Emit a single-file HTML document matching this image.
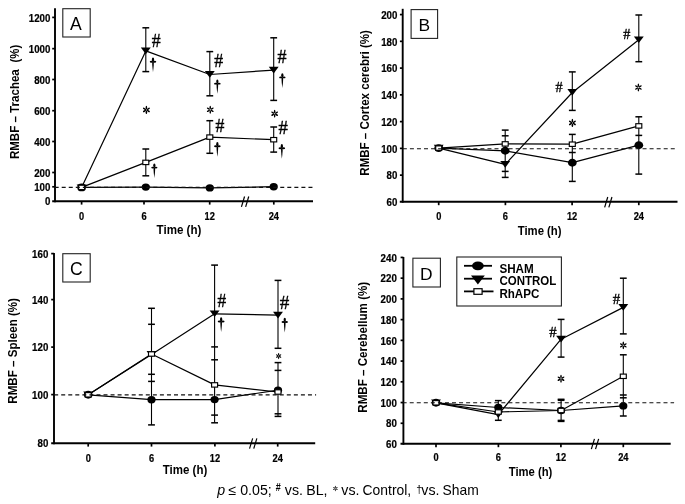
<!DOCTYPE html><html><head><meta charset="utf-8"><style>html,body{margin:0;padding:0;background:#fff;}svg{display:block;will-change:transform;}text{font-family:"Liberation Sans", sans-serif;fill:#000;}</style></head><body>
<svg width="685" height="504" viewBox="0 0 685 504">
<rect width="685" height="504" fill="#fff"/>
<line x1="55" y1="8.3" x2="55" y2="202.14999999999998" stroke="#000" stroke-width="1.9" />
<line x1="52.2" y1="201.2" x2="313" y2="201.2" stroke="#000" stroke-width="1.9" />
<text x="50.4" y="205.40" text-anchor="end" font-size="10.9" font-weight="bold" stroke="#000" stroke-width="0.22" textLength="5.40" lengthAdjust="spacingAndGlyphs">0</text>
<line x1="52.2" y1="186.8" x2="55" y2="186.8" stroke="#000" stroke-width="1.7" />
<text x="50.4" y="191.00" text-anchor="end" font-size="10.9" font-weight="bold" stroke="#000" stroke-width="0.22" textLength="16.20" lengthAdjust="spacingAndGlyphs">100</text>
<line x1="52.2" y1="172.5" x2="55" y2="172.5" stroke="#000" stroke-width="1.7" />
<text x="50.4" y="176.70" text-anchor="end" font-size="10.9" font-weight="bold" stroke="#000" stroke-width="0.22" textLength="16.20" lengthAdjust="spacingAndGlyphs">200</text>
<line x1="52.2" y1="141.5" x2="55" y2="141.5" stroke="#000" stroke-width="1.7" />
<text x="50.4" y="145.70" text-anchor="end" font-size="10.9" font-weight="bold" stroke="#000" stroke-width="0.22" textLength="16.20" lengthAdjust="spacingAndGlyphs">400</text>
<line x1="52.2" y1="110.7" x2="55" y2="110.7" stroke="#000" stroke-width="1.7" />
<text x="50.4" y="114.90" text-anchor="end" font-size="10.9" font-weight="bold" stroke="#000" stroke-width="0.22" textLength="16.20" lengthAdjust="spacingAndGlyphs">600</text>
<line x1="52.2" y1="79.5" x2="55" y2="79.5" stroke="#000" stroke-width="1.7" />
<text x="50.4" y="83.70" text-anchor="end" font-size="10.9" font-weight="bold" stroke="#000" stroke-width="0.22" textLength="16.20" lengthAdjust="spacingAndGlyphs">800</text>
<line x1="52.2" y1="48.65" x2="55" y2="48.65" stroke="#000" stroke-width="1.7" />
<text x="50.4" y="52.85" text-anchor="end" font-size="10.9" font-weight="bold" stroke="#000" stroke-width="0.22" textLength="21.60" lengthAdjust="spacingAndGlyphs">1000</text>
<line x1="52.2" y1="17.4" x2="55" y2="17.4" stroke="#000" stroke-width="1.7" />
<text x="50.4" y="21.60" text-anchor="end" font-size="10.9" font-weight="bold" stroke="#000" stroke-width="0.22" textLength="21.60" lengthAdjust="spacingAndGlyphs">1200</text>
<line x1="81.6" y1="201.2" x2="81.6" y2="204.6" stroke="#000" stroke-width="1.7" />
<text x="81.6" y="219.6" text-anchor="middle" font-size="10.7" font-weight="bold" stroke="#000" stroke-width="0.22" textLength="5.15" lengthAdjust="spacingAndGlyphs">0</text>
<line x1="144" y1="201.2" x2="144" y2="204.6" stroke="#000" stroke-width="1.7" />
<text x="144" y="219.6" text-anchor="middle" font-size="10.7" font-weight="bold" stroke="#000" stroke-width="0.22" textLength="5.15" lengthAdjust="spacingAndGlyphs">6</text>
<line x1="209.7" y1="201.2" x2="209.7" y2="204.6" stroke="#000" stroke-width="1.7" />
<text x="209.7" y="219.6" text-anchor="middle" font-size="10.7" font-weight="bold" stroke="#000" stroke-width="0.22" textLength="10.30" lengthAdjust="spacingAndGlyphs">12</text>
<line x1="273.8" y1="201.2" x2="273.8" y2="204.6" stroke="#000" stroke-width="1.7" />
<text x="273.8" y="219.6" text-anchor="middle" font-size="10.7" font-weight="bold" stroke="#000" stroke-width="0.22" textLength="10.30" lengthAdjust="spacingAndGlyphs">24</text>
<line x1="244.55" y1="196.50" x2="241.45" y2="206.80" stroke="#000" stroke-width="1.2"/>
<line x1="248.75" y1="196.50" x2="245.65" y2="206.80" stroke="#000" stroke-width="1.2"/>
<text x="156.6" y="234.10" font-size="12.3" font-weight="bold" textLength="44.80" lengthAdjust="spacingAndGlyphs">Time (h)</text>
<text transform="translate(18.6,159.1) rotate(-90)" font-size="12.3" font-weight="bold" textLength="89.90" lengthAdjust="spacingAndGlyphs">RMBF – Trachea</text>
<text transform="translate(18.6,62.4) rotate(-90)" font-size="12.3" font-weight="bold" textLength="17.60" lengthAdjust="spacingAndGlyphs">(%)</text>
<rect x="62.8" y="8.7" width="27.400000000000006" height="28.3" fill="none" stroke="#222" stroke-width="1.1"/>
<text x="75.75" y="29.5" text-anchor="middle" font-size="17.6">A</text>
<polyline points="81.60,187.40 145.80,187.10 209.80,187.90 273.70,186.70" fill="none" stroke="#000" stroke-width="1.2" stroke-linejoin="round"/>
<polyline points="81.60,187.40 145.80,50.90 209.80,74.50 273.70,70.10" fill="none" stroke="#000" stroke-width="1.2" stroke-linejoin="round"/>
<polyline points="81.60,187.40 145.80,162.40 209.80,137.10 273.70,139.70" fill="none" stroke="#000" stroke-width="1.2" stroke-linejoin="round"/>
<line x1="145.8" y1="27.8" x2="145.8" y2="71.6" stroke="#000" stroke-width="1.1" />
<line x1="142.4" y1="27.8" x2="149.20000000000002" y2="27.8" stroke="#000" stroke-width="1.5" />
<line x1="142.4" y1="71.6" x2="149.20000000000002" y2="71.6" stroke="#000" stroke-width="1.5" />
<line x1="209.8" y1="51.6" x2="209.8" y2="95.8" stroke="#000" stroke-width="1.1" />
<line x1="206.4" y1="51.6" x2="213.20000000000002" y2="51.6" stroke="#000" stroke-width="1.5" />
<line x1="206.4" y1="95.8" x2="213.20000000000002" y2="95.8" stroke="#000" stroke-width="1.5" />
<line x1="273.7" y1="37.8" x2="273.7" y2="100.4" stroke="#000" stroke-width="1.1" />
<line x1="270.3" y1="37.8" x2="277.09999999999997" y2="37.8" stroke="#000" stroke-width="1.5" />
<line x1="270.3" y1="100.4" x2="277.09999999999997" y2="100.4" stroke="#000" stroke-width="1.5" />
<line x1="145.8" y1="149.0" x2="145.8" y2="175.8" stroke="#000" stroke-width="1.1" />
<line x1="142.4" y1="149.0" x2="149.20000000000002" y2="149.0" stroke="#000" stroke-width="1.5" />
<line x1="142.4" y1="175.8" x2="149.20000000000002" y2="175.8" stroke="#000" stroke-width="1.5" />
<line x1="209.8" y1="120.7" x2="209.8" y2="153.3" stroke="#000" stroke-width="1.1" />
<line x1="206.4" y1="120.7" x2="213.20000000000002" y2="120.7" stroke="#000" stroke-width="1.5" />
<line x1="206.4" y1="153.3" x2="213.20000000000002" y2="153.3" stroke="#000" stroke-width="1.5" />
<line x1="273.7" y1="127.0" x2="273.7" y2="152.1" stroke="#000" stroke-width="1.1" />
<line x1="270.3" y1="127.0" x2="277.09999999999997" y2="127.0" stroke="#000" stroke-width="1.5" />
<line x1="270.3" y1="152.1" x2="277.09999999999997" y2="152.1" stroke="#000" stroke-width="1.5" />
<path d="M76.65,184.40 L86.55,184.40 L81.60,191.10 Z" fill="#000"/>
<ellipse cx="81.6" cy="187.4" rx="4.3" ry="3.87" fill="#000"/>
<ellipse cx="145.8" cy="187.1" rx="4.1" ry="3.69" fill="#000"/>
<ellipse cx="209.8" cy="187.9" rx="4.1" ry="3.69" fill="#000"/>
<ellipse cx="273.7" cy="186.7" rx="4.1" ry="3.69" fill="#000"/>
<path d="M140.85,47.50 L150.75,47.50 L145.80,54.20 Z" fill="#000"/>
<path d="M204.85,71.10 L214.75,71.10 L209.80,77.80 Z" fill="#000"/>
<path d="M268.75,66.70 L278.65,66.70 L273.70,73.40 Z" fill="#000"/>
<rect x="78.60" y="185.20" width="6.0" height="4.4" fill="#fff" stroke="#000" stroke-width="1.15"/>
<rect x="142.80" y="160.20" width="6.0" height="4.4" fill="#fff" stroke="#000" stroke-width="1.15"/>
<rect x="206.80" y="134.90" width="6.0" height="4.4" fill="#fff" stroke="#000" stroke-width="1.15"/>
<rect x="270.70" y="137.50" width="6.0" height="4.4" fill="#fff" stroke="#000" stroke-width="1.15"/>
<line x1="54.65" y1="187.35" x2="313.1" y2="187.35" stroke="#111" stroke-width="1.1" stroke-dasharray="4 3.05"/>
<text transform="translate(151.79,46.64) scale(0.940,1)" style="font-family:'Liberation Serif',serif" font-size="18.91" stroke="#000" stroke-width="0.35">#</text>
<g><ellipse cx="153.00" cy="59.73" rx="1.15" ry="2.13" fill="#000"/><ellipse cx="151.38" cy="61.82" rx="1.62" ry="0.95" fill="#000"/><ellipse cx="154.62" cy="61.82" rx="1.62" ry="0.95" fill="#000"/><path d="M152.20,61.82 Q152.04,64.96 153.00,72.30 Q153.96,64.96 153.80,61.82 Z" fill="#000"/></g>
<g><ellipse cx="146.40" cy="107.65" rx="1.84" ry="0.78" transform="rotate(-90.0 146.40 107.65)" fill="#000"/><ellipse cx="148.29" cy="108.81" rx="1.79" ry="0.78" transform="rotate(-30.0 148.29 108.81)" fill="#000"/><ellipse cx="148.29" cy="110.99" rx="1.79" ry="0.78" transform="rotate(30.0 148.29 110.99)" fill="#000"/><ellipse cx="146.40" cy="112.16" rx="1.84" ry="0.78" transform="rotate(90.0 146.40 112.16)" fill="#000"/><ellipse cx="144.51" cy="110.99" rx="1.79" ry="0.78" transform="rotate(150.0 144.51 110.99)" fill="#000"/><ellipse cx="144.51" cy="108.81" rx="1.79" ry="0.78" transform="rotate(-150.0 144.51 108.81)" fill="#000"/></g>
<g><ellipse cx="154.35" cy="165.53" rx="1.15" ry="2.13" fill="#000"/><ellipse cx="152.80" cy="167.62" rx="1.55" ry="0.95" fill="#000"/><ellipse cx="155.90" cy="167.62" rx="1.55" ry="0.95" fill="#000"/><path d="M153.55,167.62 Q153.39,170.76 154.35,178.10 Q155.31,170.76 155.15,167.62 Z" fill="#000"/></g>
<text transform="translate(214.29,67.13) scale(0.989,1)" style="font-family:'Liberation Serif',serif" font-size="17.97" stroke="#000" stroke-width="0.35">#</text>
<g><ellipse cx="217.35" cy="81.65" rx="1.10" ry="2.05" fill="#000"/><ellipse cx="215.70" cy="83.66" rx="1.65" ry="0.91" fill="#000"/><ellipse cx="219.00" cy="83.66" rx="1.65" ry="0.91" fill="#000"/><path d="M216.58,83.66 Q216.43,86.67 217.35,93.70 Q218.27,86.67 218.12,83.66 Z" fill="#000"/></g>
<g><ellipse cx="210.25" cy="107.55" rx="1.80" ry="0.76" transform="rotate(-90.0 210.25 107.55)" fill="#000"/><ellipse cx="212.10" cy="108.68" rx="1.75" ry="0.76" transform="rotate(-30.0 212.10 108.68)" fill="#000"/><ellipse cx="212.10" cy="110.82" rx="1.75" ry="0.76" transform="rotate(30.0 212.10 110.82)" fill="#000"/><ellipse cx="210.25" cy="111.95" rx="1.80" ry="0.76" transform="rotate(90.0 210.25 111.95)" fill="#000"/><ellipse cx="208.40" cy="110.82" rx="1.75" ry="0.76" transform="rotate(150.0 208.40 110.82)" fill="#000"/><ellipse cx="208.40" cy="108.68" rx="1.75" ry="0.76" transform="rotate(-150.0 208.40 108.68)" fill="#000"/></g>
<text transform="translate(215.49,132.33) scale(0.989,1)" style="font-family:'Liberation Serif',serif" font-size="17.97" stroke="#000" stroke-width="0.35">#</text>
<g><ellipse cx="217.35" cy="144.13" rx="1.15" ry="2.13" fill="#000"/><ellipse cx="215.70" cy="146.22" rx="1.65" ry="0.95" fill="#000"/><ellipse cx="219.00" cy="146.22" rx="1.65" ry="0.95" fill="#000"/><path d="M216.55,146.22 Q216.39,149.36 217.35,156.70 Q218.31,149.36 218.15,146.22 Z" fill="#000"/></g>
<text transform="translate(277.59,62.93) scale(1.002,1)" style="font-family:'Liberation Serif',serif" font-size="17.97" stroke="#000" stroke-width="0.35">#</text>
<g><ellipse cx="282.35" cy="75.33" rx="1.15" ry="2.13" fill="#000"/><ellipse cx="280.75" cy="77.42" rx="1.60" ry="0.95" fill="#000"/><ellipse cx="283.95" cy="77.42" rx="1.60" ry="0.95" fill="#000"/><path d="M281.55,77.42 Q281.39,80.56 282.35,87.90 Q283.31,80.56 283.15,77.42 Z" fill="#000"/></g>
<g><ellipse cx="274.65" cy="111.45" rx="1.80" ry="0.76" transform="rotate(-90.0 274.65 111.45)" fill="#000"/><ellipse cx="276.50" cy="112.58" rx="1.75" ry="0.76" transform="rotate(-30.0 276.50 112.58)" fill="#000"/><ellipse cx="276.50" cy="114.72" rx="1.75" ry="0.76" transform="rotate(30.0 276.50 114.72)" fill="#000"/><ellipse cx="274.65" cy="115.85" rx="1.80" ry="0.76" transform="rotate(90.0 274.65 115.85)" fill="#000"/><ellipse cx="272.80" cy="114.72" rx="1.75" ry="0.76" transform="rotate(150.0 272.80 114.72)" fill="#000"/><ellipse cx="272.80" cy="112.58" rx="1.75" ry="0.76" transform="rotate(-150.0 272.80 112.58)" fill="#000"/></g>
<text transform="translate(278.58,133.63) scale(1.021,1)" style="font-family:'Liberation Serif',serif" font-size="18.28" stroke="#000" stroke-width="0.35">#</text>
<g><ellipse cx="281.85" cy="146.13" rx="1.15" ry="2.13" fill="#000"/><ellipse cx="280.20" cy="148.22" rx="1.65" ry="0.95" fill="#000"/><ellipse cx="283.50" cy="148.22" rx="1.65" ry="0.95" fill="#000"/><path d="M281.05,148.22 Q280.89,151.36 281.85,158.70 Q282.81,151.36 282.65,148.22 Z" fill="#000"/></g>
<line x1="402.7" y1="8.8" x2="402.7" y2="202.75" stroke="#000" stroke-width="1.9" />
<line x1="399.8" y1="201.8" x2="677.5" y2="201.8" stroke="#000" stroke-width="1.9" />
<text x="397.4" y="206.10" text-anchor="end" font-size="10.9" font-weight="bold" stroke="#000" stroke-width="0.22" textLength="10.80" lengthAdjust="spacingAndGlyphs">60</text>
<line x1="399.9" y1="175.14000000000001" x2="402.7" y2="175.14000000000001" stroke="#000" stroke-width="1.7" />
<text x="397.4" y="179.34" text-anchor="end" font-size="10.9" font-weight="bold" stroke="#000" stroke-width="0.22" textLength="10.80" lengthAdjust="spacingAndGlyphs">80</text>
<line x1="399.9" y1="148.38" x2="402.7" y2="148.38" stroke="#000" stroke-width="1.7" />
<text x="397.4" y="152.58" text-anchor="end" font-size="10.9" font-weight="bold" stroke="#000" stroke-width="0.22" textLength="16.20" lengthAdjust="spacingAndGlyphs">100</text>
<line x1="399.9" y1="121.62" x2="402.7" y2="121.62" stroke="#000" stroke-width="1.7" />
<text x="397.4" y="125.82" text-anchor="end" font-size="10.9" font-weight="bold" stroke="#000" stroke-width="0.22" textLength="16.20" lengthAdjust="spacingAndGlyphs">120</text>
<line x1="399.9" y1="94.86" x2="402.7" y2="94.86" stroke="#000" stroke-width="1.7" />
<text x="397.4" y="99.06" text-anchor="end" font-size="10.9" font-weight="bold" stroke="#000" stroke-width="0.22" textLength="16.20" lengthAdjust="spacingAndGlyphs">140</text>
<line x1="399.9" y1="68.1" x2="402.7" y2="68.1" stroke="#000" stroke-width="1.7" />
<text x="397.4" y="72.30" text-anchor="end" font-size="10.9" font-weight="bold" stroke="#000" stroke-width="0.22" textLength="16.20" lengthAdjust="spacingAndGlyphs">160</text>
<line x1="399.9" y1="41.34" x2="402.7" y2="41.34" stroke="#000" stroke-width="1.7" />
<text x="397.4" y="45.54" text-anchor="end" font-size="10.9" font-weight="bold" stroke="#000" stroke-width="0.22" textLength="16.20" lengthAdjust="spacingAndGlyphs">180</text>
<line x1="399.9" y1="14.579999999999984" x2="402.7" y2="14.579999999999984" stroke="#000" stroke-width="1.7" />
<text x="397.4" y="18.78" text-anchor="end" font-size="10.9" font-weight="bold" stroke="#000" stroke-width="0.22" textLength="16.20" lengthAdjust="spacingAndGlyphs">200</text>
<line x1="438.7" y1="201.8" x2="438.7" y2="205.20000000000002" stroke="#000" stroke-width="1.7" />
<text x="438.7" y="219.6" text-anchor="middle" font-size="10.7" font-weight="bold" stroke="#000" stroke-width="0.22" textLength="5.15" lengthAdjust="spacingAndGlyphs">0</text>
<line x1="505.4" y1="201.8" x2="505.4" y2="205.20000000000002" stroke="#000" stroke-width="1.7" />
<text x="505.4" y="219.6" text-anchor="middle" font-size="10.7" font-weight="bold" stroke="#000" stroke-width="0.22" textLength="5.15" lengthAdjust="spacingAndGlyphs">6</text>
<line x1="572.1" y1="201.8" x2="572.1" y2="205.20000000000002" stroke="#000" stroke-width="1.7" />
<text x="572.1" y="219.6" text-anchor="middle" font-size="10.7" font-weight="bold" stroke="#000" stroke-width="0.22" textLength="10.30" lengthAdjust="spacingAndGlyphs">12</text>
<line x1="638.8" y1="201.8" x2="638.8" y2="205.20000000000002" stroke="#000" stroke-width="1.7" />
<text x="638.8" y="219.6" text-anchor="middle" font-size="10.7" font-weight="bold" stroke="#000" stroke-width="0.22" textLength="10.30" lengthAdjust="spacingAndGlyphs">24</text>
<line x1="607.75" y1="197.00" x2="604.65" y2="207.30" stroke="#000" stroke-width="1.2"/>
<line x1="611.95" y1="197.00" x2="608.85" y2="207.30" stroke="#000" stroke-width="1.2"/>
<text x="517.7" y="234.60" font-size="12.3" font-weight="bold" textLength="43.90" lengthAdjust="spacingAndGlyphs">Time (h)</text>
<text transform="translate(369.3,175.7) rotate(-90)" font-size="12.3" font-weight="bold" textLength="145.60" lengthAdjust="spacingAndGlyphs">RMBF – Cortex cerebri (%)</text>
<rect x="411.1" y="9.6" width="26.5" height="28.799999999999997" fill="none" stroke="#222" stroke-width="1.1"/>
<text x="424.4" y="31.3" text-anchor="middle" font-size="17.4">B</text>
<polyline points="438.70,148.10 505.20,150.80 572.30,162.70 638.80,145.20" fill="none" stroke="#000" stroke-width="1.2" stroke-linejoin="round"/>
<polyline points="438.70,148.10 505.20,164.40 572.30,92.50 638.80,39.80" fill="none" stroke="#000" stroke-width="1.2" stroke-linejoin="round"/>
<polyline points="438.70,148.10 505.20,143.90 572.30,144.20 638.80,125.90" fill="none" stroke="#000" stroke-width="1.2" stroke-linejoin="round"/>
<line x1="505.2" y1="130.1" x2="505.2" y2="177.4" stroke="#000" stroke-width="1.1" />
<line x1="501.8" y1="130.1" x2="508.59999999999997" y2="130.1" stroke="#000" stroke-width="1.5" />
<line x1="501.8" y1="135.8" x2="508.59999999999997" y2="135.8" stroke="#000" stroke-width="1.5" />
<line x1="501.8" y1="171.4" x2="508.59999999999997" y2="171.4" stroke="#000" stroke-width="1.5" />
<line x1="501.8" y1="177.4" x2="508.59999999999997" y2="177.4" stroke="#000" stroke-width="1.5" />
<line x1="572.3" y1="71.9" x2="572.3" y2="110.4" stroke="#000" stroke-width="1.1" />
<line x1="568.9" y1="71.9" x2="575.6999999999999" y2="71.9" stroke="#000" stroke-width="1.5" />
<line x1="568.9" y1="110.4" x2="575.6999999999999" y2="110.4" stroke="#000" stroke-width="1.5" />
<line x1="572.3" y1="134.4" x2="572.3" y2="181.4" stroke="#000" stroke-width="1.1" />
<line x1="568.9" y1="134.4" x2="575.6999999999999" y2="134.4" stroke="#000" stroke-width="1.5" />
<line x1="568.9" y1="152.5" x2="575.6999999999999" y2="152.5" stroke="#000" stroke-width="1.5" />
<line x1="568.9" y1="181.4" x2="575.6999999999999" y2="181.4" stroke="#000" stroke-width="1.5" />
<line x1="638.8" y1="15.0" x2="638.8" y2="61.7" stroke="#000" stroke-width="1.1" />
<line x1="635.4" y1="15.0" x2="642.1999999999999" y2="15.0" stroke="#000" stroke-width="1.5" />
<line x1="635.4" y1="61.7" x2="642.1999999999999" y2="61.7" stroke="#000" stroke-width="1.5" />
<line x1="638.8" y1="116.8" x2="638.8" y2="174.1" stroke="#000" stroke-width="1.1" />
<line x1="635.4" y1="116.8" x2="642.1999999999999" y2="116.8" stroke="#000" stroke-width="1.5" />
<line x1="635.4" y1="135.4" x2="642.1999999999999" y2="135.4" stroke="#000" stroke-width="1.5" />
<line x1="635.4" y1="174.1" x2="642.1999999999999" y2="174.1" stroke="#000" stroke-width="1.5" />
<path d="M433.75,144.70 L443.65,144.70 L438.70,151.40 Z" fill="#000"/>
<ellipse cx="438.7" cy="148.1" rx="4.4" ry="3.96" fill="#000"/>
<ellipse cx="505.2" cy="150.8" rx="4.4" ry="3.96" fill="#000"/>
<ellipse cx="572.3" cy="162.7" rx="4.4" ry="3.96" fill="#000"/>
<ellipse cx="638.8" cy="145.2" rx="4.4" ry="3.96" fill="#000"/>
<path d="M500.25,161.00 L510.15,161.00 L505.20,167.70 Z" fill="#000"/>
<path d="M567.35,89.10 L577.25,89.10 L572.30,95.80 Z" fill="#000"/>
<path d="M633.85,36.40 L643.75,36.40 L638.80,43.10 Z" fill="#000"/>
<rect x="435.70" y="145.90" width="6.0" height="4.4" fill="#fff" stroke="#000" stroke-width="1.15"/>
<rect x="502.20" y="141.70" width="6.0" height="4.4" fill="#fff" stroke="#000" stroke-width="1.15"/>
<rect x="569.30" y="142.00" width="6.0" height="4.4" fill="#fff" stroke="#000" stroke-width="1.15"/>
<rect x="635.80" y="123.70" width="6.0" height="4.4" fill="#fff" stroke="#000" stroke-width="1.15"/>
<line x1="402.85" y1="148.8" x2="675.1" y2="148.8" stroke="#111" stroke-width="1.1" stroke-dasharray="4 3.05"/>
<text transform="translate(555.47,91.69) scale(1.000,1)" style="font-family:'Liberation Serif',serif" font-size="14.22" stroke="#000" stroke-width="0.35">#</text>
<text transform="translate(623.17,39.19) scale(1.046,1)" style="font-family:'Liberation Serif',serif" font-size="13.59" stroke="#000" stroke-width="0.35">#</text>
<g><ellipse cx="638.40" cy="85.36" rx="1.75" ry="0.74" transform="rotate(-90.0 638.40 85.36)" fill="#000"/><ellipse cx="640.20" cy="86.46" rx="1.70" ry="0.74" transform="rotate(-30.0 640.20 86.46)" fill="#000"/><ellipse cx="640.20" cy="88.54" rx="1.70" ry="0.74" transform="rotate(30.0 640.20 88.54)" fill="#000"/><ellipse cx="638.40" cy="89.64" rx="1.75" ry="0.74" transform="rotate(90.0 638.40 89.64)" fill="#000"/><ellipse cx="636.60" cy="88.54" rx="1.70" ry="0.74" transform="rotate(150.0 636.60 88.54)" fill="#000"/><ellipse cx="636.60" cy="86.46" rx="1.70" ry="0.74" transform="rotate(-150.0 636.60 86.46)" fill="#000"/></g>
<g><ellipse cx="572.40" cy="120.65" rx="1.84" ry="0.78" transform="rotate(-90.0 572.40 120.65)" fill="#000"/><ellipse cx="574.29" cy="121.81" rx="1.79" ry="0.78" transform="rotate(-30.0 574.29 121.81)" fill="#000"/><ellipse cx="574.29" cy="123.99" rx="1.79" ry="0.78" transform="rotate(30.0 574.29 123.99)" fill="#000"/><ellipse cx="572.40" cy="125.16" rx="1.84" ry="0.78" transform="rotate(90.0 572.40 125.16)" fill="#000"/><ellipse cx="570.51" cy="123.99" rx="1.79" ry="0.78" transform="rotate(150.0 570.51 123.99)" fill="#000"/><ellipse cx="570.51" cy="121.81" rx="1.79" ry="0.78" transform="rotate(-150.0 570.51 121.81)" fill="#000"/></g>
<line x1="54" y1="253.0" x2="54" y2="444.15" stroke="#000" stroke-width="1.9" />
<line x1="51.2" y1="443.2" x2="315.2" y2="443.2" stroke="#000" stroke-width="1.9" />
<text x="48.3" y="447.40" text-anchor="end" font-size="10.9" font-weight="bold" stroke="#000" stroke-width="0.22" textLength="10.80" lengthAdjust="spacingAndGlyphs">80</text>
<line x1="51.2" y1="394.6" x2="54" y2="394.6" stroke="#000" stroke-width="1.7" />
<text x="48.3" y="398.80" text-anchor="end" font-size="10.9" font-weight="bold" stroke="#000" stroke-width="0.22" textLength="16.20" lengthAdjust="spacingAndGlyphs">100</text>
<line x1="51.2" y1="347.1" x2="54" y2="347.1" stroke="#000" stroke-width="1.7" />
<text x="48.3" y="351.30" text-anchor="end" font-size="10.9" font-weight="bold" stroke="#000" stroke-width="0.22" textLength="16.20" lengthAdjust="spacingAndGlyphs">120</text>
<line x1="51.2" y1="299.6" x2="54" y2="299.6" stroke="#000" stroke-width="1.7" />
<text x="48.3" y="303.80" text-anchor="end" font-size="10.9" font-weight="bold" stroke="#000" stroke-width="0.22" textLength="16.20" lengthAdjust="spacingAndGlyphs">140</text>
<line x1="51.2" y1="253.6" x2="54" y2="253.6" stroke="#000" stroke-width="1.7" />
<text x="48.3" y="257.80" text-anchor="end" font-size="10.9" font-weight="bold" stroke="#000" stroke-width="0.22" textLength="16.20" lengthAdjust="spacingAndGlyphs">160</text>
<line x1="88.2" y1="443.2" x2="88.2" y2="446.59999999999997" stroke="#000" stroke-width="1.7" />
<text x="88.2" y="461.5" text-anchor="middle" font-size="10.7" font-weight="bold" stroke="#000" stroke-width="0.22" textLength="5.15" lengthAdjust="spacingAndGlyphs">0</text>
<line x1="151.5" y1="443.2" x2="151.5" y2="446.59999999999997" stroke="#000" stroke-width="1.7" />
<text x="151.5" y="461.5" text-anchor="middle" font-size="10.7" font-weight="bold" stroke="#000" stroke-width="0.22" textLength="5.15" lengthAdjust="spacingAndGlyphs">6</text>
<line x1="214.9" y1="443.2" x2="214.9" y2="446.59999999999997" stroke="#000" stroke-width="1.7" />
<text x="214.9" y="461.5" text-anchor="middle" font-size="10.7" font-weight="bold" stroke="#000" stroke-width="0.22" textLength="10.30" lengthAdjust="spacingAndGlyphs">12</text>
<line x1="277.7" y1="443.2" x2="277.7" y2="446.59999999999997" stroke="#000" stroke-width="1.7" />
<text x="277.7" y="461.5" text-anchor="middle" font-size="10.7" font-weight="bold" stroke="#000" stroke-width="0.22" textLength="10.30" lengthAdjust="spacingAndGlyphs">24</text>
<line x1="252.65" y1="438.40" x2="249.55" y2="448.70" stroke="#000" stroke-width="1.2"/>
<line x1="256.85" y1="438.40" x2="253.75" y2="448.70" stroke="#000" stroke-width="1.2"/>
<text x="162.8" y="473.90" font-size="12.3" font-weight="bold" textLength="44.50" lengthAdjust="spacingAndGlyphs">Time (h)</text>
<text transform="translate(17.3,403.7) rotate(-90)" font-size="12.3" font-weight="bold" textLength="105.70" lengthAdjust="spacingAndGlyphs">RMBF – Spleen (%)</text>
<rect x="62.8" y="253.7" width="27.400000000000006" height="28.30000000000001" fill="none" stroke="#222" stroke-width="1.1"/>
<text x="76.4" y="275.0" text-anchor="middle" font-size="17.6">C</text>
<polyline points="88.20,394.80 151.50,399.70 214.60,399.60 278.00,390.20" fill="none" stroke="#000" stroke-width="1.2" stroke-linejoin="round"/>
<polyline points="88.20,394.80 151.50,354.50 214.60,313.80 278.00,315.20" fill="none" stroke="#000" stroke-width="1.2" stroke-linejoin="round"/>
<polyline points="88.20,394.80 151.50,354.00 214.60,384.90 278.00,392.00" fill="none" stroke="#000" stroke-width="1.2" stroke-linejoin="round"/>
<line x1="151.5" y1="308.3" x2="151.5" y2="424.9" stroke="#000" stroke-width="1.1" />
<line x1="148.1" y1="308.3" x2="154.9" y2="308.3" stroke="#000" stroke-width="1.5" />
<line x1="148.1" y1="324.3" x2="154.9" y2="324.3" stroke="#000" stroke-width="1.5" />
<line x1="148.1" y1="374.3" x2="154.9" y2="374.3" stroke="#000" stroke-width="1.5" />
<line x1="148.1" y1="381.4" x2="154.9" y2="381.4" stroke="#000" stroke-width="1.5" />
<line x1="148.1" y1="424.9" x2="154.9" y2="424.9" stroke="#000" stroke-width="1.5" />
<line x1="214.6" y1="265.1" x2="214.6" y2="422.8" stroke="#000" stroke-width="1.1" />
<line x1="211.2" y1="265.1" x2="218.0" y2="265.1" stroke="#000" stroke-width="1.5" />
<line x1="211.2" y1="346.9" x2="218.0" y2="346.9" stroke="#000" stroke-width="1.5" />
<line x1="211.2" y1="359.8" x2="218.0" y2="359.8" stroke="#000" stroke-width="1.5" />
<line x1="211.2" y1="415.1" x2="218.0" y2="415.1" stroke="#000" stroke-width="1.5" />
<line x1="211.2" y1="422.8" x2="218.0" y2="422.8" stroke="#000" stroke-width="1.5" />
<line x1="278.0" y1="280.4" x2="278.0" y2="348.3" stroke="#000" stroke-width="1.1" />
<line x1="274.6" y1="280.4" x2="281.4" y2="280.4" stroke="#000" stroke-width="1.5" />
<line x1="274.6" y1="348.3" x2="281.4" y2="348.3" stroke="#000" stroke-width="1.5" />
<line x1="278.0" y1="362.6" x2="278.0" y2="416.4" stroke="#000" stroke-width="1.1" />
<line x1="274.6" y1="362.6" x2="281.4" y2="362.6" stroke="#000" stroke-width="1.5" />
<line x1="274.6" y1="370.4" x2="281.4" y2="370.4" stroke="#000" stroke-width="1.5" />
<line x1="274.6" y1="413.8" x2="281.4" y2="413.8" stroke="#000" stroke-width="1.5" />
<line x1="274.6" y1="416.4" x2="281.4" y2="416.4" stroke="#000" stroke-width="1.5" />
<path d="M83.25,391.40 L93.15,391.40 L88.20,398.10 Z" fill="#000"/>
<ellipse cx="88.2" cy="394.8" rx="4.4" ry="3.96" fill="#000"/>
<path d="M146.55,351.10 L156.45,351.10 L151.50,357.80 Z" fill="#000"/>
<path d="M209.65,310.40 L219.55,310.40 L214.60,317.10 Z" fill="#000"/>
<path d="M273.05,311.80 L282.95,311.80 L278.00,318.50 Z" fill="#000"/>
<ellipse cx="151.5" cy="399.7" rx="4.1" ry="3.69" fill="#000"/>
<ellipse cx="214.6" cy="399.6" rx="4.1" ry="3.69" fill="#000"/>
<ellipse cx="278.0" cy="390.2" rx="4.1" ry="3.69" fill="#000"/>
<rect x="85.20" y="392.60" width="6.0" height="4.4" fill="#fff" stroke="#000" stroke-width="1.15"/>
<rect x="148.50" y="351.80" width="6.0" height="4.4" fill="#fff" stroke="#000" stroke-width="1.15"/>
<rect x="211.60" y="382.70" width="6.0" height="4.4" fill="#fff" stroke="#000" stroke-width="1.15"/>
<rect x="275.00" y="389.80" width="6.0" height="4.4" fill="#fff" stroke="#000" stroke-width="1.15"/>
<line x1="54.15" y1="394.85" x2="316.1" y2="394.85" stroke="#111" stroke-width="1.1" stroke-dasharray="4 3.05"/>
<text transform="translate(217.40,307.43) scale(0.956,1)" style="font-family:'Liberation Serif',serif" font-size="18.13" stroke="#000" stroke-width="0.35">#</text>
<g><ellipse cx="221.15" cy="319.43" rx="1.15" ry="2.13" fill="#000"/><ellipse cx="219.45" cy="321.52" rx="1.70" ry="0.95" fill="#000"/><ellipse cx="222.85" cy="321.52" rx="1.70" ry="0.95" fill="#000"/><path d="M220.35,321.52 Q220.19,324.66 221.15,332.00 Q222.11,324.66 221.95,321.52 Z" fill="#000"/></g>
<text transform="translate(279.77,308.74) scale(1.019,1)" style="font-family:'Liberation Serif',serif" font-size="18.75" stroke="#000" stroke-width="0.35">#</text>
<g><ellipse cx="284.75" cy="319.93" rx="1.15" ry="2.13" fill="#000"/><ellipse cx="283.15" cy="322.02" rx="1.60" ry="0.95" fill="#000"/><ellipse cx="286.35" cy="322.02" rx="1.60" ry="0.95" fill="#000"/><path d="M283.95,322.02 Q283.79,325.16 284.75,332.50 Q285.71,325.16 285.55,322.02 Z" fill="#000"/></g>
<g><ellipse cx="278.65" cy="354.35" rx="1.40" ry="0.59" transform="rotate(-90.0 278.65 354.35)" fill="#000"/><ellipse cx="280.08" cy="355.22" rx="1.35" ry="0.59" transform="rotate(-30.0 280.08 355.22)" fill="#000"/><ellipse cx="280.08" cy="356.88" rx="1.35" ry="0.59" transform="rotate(30.0 280.08 356.88)" fill="#000"/><ellipse cx="278.65" cy="357.75" rx="1.40" ry="0.59" transform="rotate(90.0 278.65 357.75)" fill="#000"/><ellipse cx="277.22" cy="356.88" rx="1.35" ry="0.59" transform="rotate(150.0 277.22 356.88)" fill="#000"/><ellipse cx="277.22" cy="355.22" rx="1.35" ry="0.59" transform="rotate(-150.0 277.22 355.22)" fill="#000"/></g>
<line x1="403.4" y1="257.0" x2="403.4" y2="444.75" stroke="#000" stroke-width="1.9" />
<line x1="400.5" y1="443.8" x2="670.7" y2="443.8" stroke="#000" stroke-width="1.9" />
<text x="396.8" y="448.20" text-anchor="end" font-size="10.9" font-weight="bold" stroke="#000" stroke-width="0.22" textLength="10.80" lengthAdjust="spacingAndGlyphs">60</text>
<line x1="400.59999999999997" y1="423.27" x2="403.4" y2="423.27" stroke="#000" stroke-width="1.7" />
<text x="396.8" y="427.47" text-anchor="end" font-size="10.9" font-weight="bold" stroke="#000" stroke-width="0.22" textLength="10.80" lengthAdjust="spacingAndGlyphs">80</text>
<line x1="400.59999999999997" y1="402.54" x2="403.4" y2="402.54" stroke="#000" stroke-width="1.7" />
<text x="396.8" y="406.74" text-anchor="end" font-size="10.9" font-weight="bold" stroke="#000" stroke-width="0.22" textLength="16.20" lengthAdjust="spacingAndGlyphs">100</text>
<line x1="400.59999999999997" y1="381.81" x2="403.4" y2="381.81" stroke="#000" stroke-width="1.7" />
<text x="396.8" y="386.01" text-anchor="end" font-size="10.9" font-weight="bold" stroke="#000" stroke-width="0.22" textLength="16.20" lengthAdjust="spacingAndGlyphs">120</text>
<line x1="400.59999999999997" y1="361.08" x2="403.4" y2="361.08" stroke="#000" stroke-width="1.7" />
<text x="396.8" y="365.28" text-anchor="end" font-size="10.9" font-weight="bold" stroke="#000" stroke-width="0.22" textLength="16.20" lengthAdjust="spacingAndGlyphs">140</text>
<line x1="400.59999999999997" y1="340.35" x2="403.4" y2="340.35" stroke="#000" stroke-width="1.7" />
<text x="396.8" y="344.55" text-anchor="end" font-size="10.9" font-weight="bold" stroke="#000" stroke-width="0.22" textLength="16.20" lengthAdjust="spacingAndGlyphs">160</text>
<line x1="400.59999999999997" y1="319.62" x2="403.4" y2="319.62" stroke="#000" stroke-width="1.7" />
<text x="396.8" y="323.82" text-anchor="end" font-size="10.9" font-weight="bold" stroke="#000" stroke-width="0.22" textLength="16.20" lengthAdjust="spacingAndGlyphs">180</text>
<line x1="400.59999999999997" y1="298.89" x2="403.4" y2="298.89" stroke="#000" stroke-width="1.7" />
<text x="396.8" y="303.09" text-anchor="end" font-size="10.9" font-weight="bold" stroke="#000" stroke-width="0.22" textLength="16.20" lengthAdjust="spacingAndGlyphs">200</text>
<line x1="400.59999999999997" y1="278.15999999999997" x2="403.4" y2="278.15999999999997" stroke="#000" stroke-width="1.7" />
<text x="396.8" y="282.36" text-anchor="end" font-size="10.9" font-weight="bold" stroke="#000" stroke-width="0.22" textLength="16.20" lengthAdjust="spacingAndGlyphs">220</text>
<line x1="400.59999999999997" y1="257.43" x2="403.4" y2="257.43" stroke="#000" stroke-width="1.7" />
<text x="396.8" y="261.63" text-anchor="end" font-size="10.9" font-weight="bold" stroke="#000" stroke-width="0.22" textLength="16.20" lengthAdjust="spacingAndGlyphs">240</text>
<line x1="436" y1="443.8" x2="436" y2="447.2" stroke="#000" stroke-width="1.7" />
<text x="436" y="460.6" text-anchor="middle" font-size="10.7" font-weight="bold" stroke="#000" stroke-width="0.22" textLength="5.15" lengthAdjust="spacingAndGlyphs">0</text>
<line x1="498.4" y1="443.8" x2="498.4" y2="447.2" stroke="#000" stroke-width="1.7" />
<text x="498.4" y="460.6" text-anchor="middle" font-size="10.7" font-weight="bold" stroke="#000" stroke-width="0.22" textLength="5.15" lengthAdjust="spacingAndGlyphs">6</text>
<line x1="560.9" y1="443.8" x2="560.9" y2="447.2" stroke="#000" stroke-width="1.7" />
<text x="560.9" y="460.6" text-anchor="middle" font-size="10.7" font-weight="bold" stroke="#000" stroke-width="0.22" textLength="10.30" lengthAdjust="spacingAndGlyphs">12</text>
<line x1="623.3" y1="443.8" x2="623.3" y2="447.2" stroke="#000" stroke-width="1.7" />
<text x="623.3" y="460.6" text-anchor="middle" font-size="10.7" font-weight="bold" stroke="#000" stroke-width="0.22" textLength="10.30" lengthAdjust="spacingAndGlyphs">24</text>
<line x1="594.45" y1="438.80" x2="591.35" y2="449.10" stroke="#000" stroke-width="1.2"/>
<line x1="598.65" y1="438.80" x2="595.55" y2="449.10" stroke="#000" stroke-width="1.2"/>
<text x="508.7" y="475.90" font-size="12.3" font-weight="bold" textLength="43.70" lengthAdjust="spacingAndGlyphs">Time (h)</text>
<text transform="translate(367.1,412.7) rotate(-90)" font-size="12.3" font-weight="bold" textLength="130.90" lengthAdjust="spacingAndGlyphs">RMBF – Cerebellum (%)</text>
<rect x="412.9" y="258.2" width="27.5" height="28.80000000000001" fill="none" stroke="#222" stroke-width="1.1"/>
<text x="426.4" y="280.0" text-anchor="middle" font-size="17.4">D</text>
<polyline points="436.00,402.80 498.30,407.50 561.10,410.50 623.30,405.90" fill="none" stroke="#000" stroke-width="1.2" stroke-linejoin="round"/>
<polyline points="436.00,402.80 498.30,414.60 561.10,339.20 623.30,307.40" fill="none" stroke="#000" stroke-width="1.2" stroke-linejoin="round"/>
<polyline points="436.00,402.80 498.30,412.00 561.10,410.50 623.30,376.30" fill="none" stroke="#000" stroke-width="1.2" stroke-linejoin="round"/>
<line x1="498.3" y1="400.6" x2="498.3" y2="420.3" stroke="#000" stroke-width="1.1" />
<line x1="494.90000000000003" y1="400.6" x2="501.7" y2="400.6" stroke="#000" stroke-width="1.5" />
<line x1="494.90000000000003" y1="420.3" x2="501.7" y2="420.3" stroke="#000" stroke-width="1.5" />
<line x1="561.1" y1="319.4" x2="561.1" y2="357.1" stroke="#000" stroke-width="1.1" />
<line x1="557.7" y1="319.4" x2="564.5" y2="319.4" stroke="#000" stroke-width="1.5" />
<line x1="557.7" y1="357.1" x2="564.5" y2="357.1" stroke="#000" stroke-width="1.5" />
<line x1="561.1" y1="399.3" x2="561.1" y2="421.4" stroke="#000" stroke-width="1.1" />
<line x1="557.7" y1="399.3" x2="564.5" y2="399.3" stroke="#000" stroke-width="1.5" />
<line x1="557.7" y1="400.3" x2="564.5" y2="400.3" stroke="#000" stroke-width="1.5" />
<line x1="557.7" y1="420.4" x2="564.5" y2="420.4" stroke="#000" stroke-width="1.5" />
<line x1="557.7" y1="421.4" x2="564.5" y2="421.4" stroke="#000" stroke-width="1.5" />
<line x1="623.3" y1="278.2" x2="623.3" y2="333.9" stroke="#000" stroke-width="1.1" />
<line x1="619.9" y1="278.2" x2="626.6999999999999" y2="278.2" stroke="#000" stroke-width="1.5" />
<line x1="619.9" y1="333.9" x2="626.6999999999999" y2="333.9" stroke="#000" stroke-width="1.5" />
<line x1="623.3" y1="354.8" x2="623.3" y2="416.0" stroke="#000" stroke-width="1.1" />
<line x1="619.9" y1="354.8" x2="626.6999999999999" y2="354.8" stroke="#000" stroke-width="1.5" />
<line x1="619.9" y1="395.0" x2="626.6999999999999" y2="395.0" stroke="#000" stroke-width="1.5" />
<line x1="619.9" y1="397.8" x2="626.6999999999999" y2="397.8" stroke="#000" stroke-width="1.5" />
<line x1="619.9" y1="416.0" x2="626.6999999999999" y2="416.0" stroke="#000" stroke-width="1.5" />
<path d="M431.05,399.40 L440.95,399.40 L436.00,406.10 Z" fill="#000"/>
<ellipse cx="436.0" cy="402.8" rx="4.4" ry="3.96" fill="#000"/>
<path d="M493.35,411.20 L503.25,411.20 L498.30,417.90 Z" fill="#000"/>
<path d="M556.15,335.80 L566.05,335.80 L561.10,342.50 Z" fill="#000"/>
<path d="M618.35,304.00 L628.25,304.00 L623.30,310.70 Z" fill="#000"/>
<ellipse cx="498.3" cy="407.5" rx="4.1" ry="3.69" fill="#000"/>
<ellipse cx="561.1" cy="410.5" rx="4.1" ry="3.69" fill="#000"/>
<ellipse cx="623.3" cy="405.9" rx="4.1" ry="3.69" fill="#000"/>
<rect x="433.00" y="400.60" width="6.0" height="4.4" fill="#fff" stroke="#000" stroke-width="1.15"/>
<rect x="495.30" y="409.80" width="6.0" height="4.4" fill="#fff" stroke="#000" stroke-width="1.15"/>
<rect x="558.10" y="408.30" width="6.0" height="4.4" fill="#fff" stroke="#000" stroke-width="1.15"/>
<rect x="620.30" y="374.10" width="6.0" height="4.4" fill="#fff" stroke="#000" stroke-width="1.15"/>
<line x1="402.65" y1="402.8" x2="674.1" y2="402.8" stroke="#111" stroke-width="1.1" stroke-dasharray="4 3.05"/>
<text transform="translate(549.15,337.10) scale(1.006,1)" style="font-family:'Liberation Serif',serif" font-size="14.69" stroke="#000" stroke-width="0.35">#</text>
<g><ellipse cx="561.00" cy="376.50" rx="1.80" ry="0.76" transform="rotate(-90.0 561.00 376.50)" fill="#000"/><ellipse cx="562.85" cy="377.63" rx="1.75" ry="0.76" transform="rotate(-30.0 562.85 377.63)" fill="#000"/><ellipse cx="562.85" cy="379.77" rx="1.75" ry="0.76" transform="rotate(30.0 562.85 379.77)" fill="#000"/><ellipse cx="561.00" cy="380.90" rx="1.80" ry="0.76" transform="rotate(90.0 561.00 380.90)" fill="#000"/><ellipse cx="559.15" cy="379.77" rx="1.75" ry="0.76" transform="rotate(150.0 559.15 379.77)" fill="#000"/><ellipse cx="559.15" cy="377.63" rx="1.75" ry="0.76" transform="rotate(-150.0 559.15 377.63)" fill="#000"/></g>
<text transform="translate(612.75,303.74) scale(1.089,1)" style="font-family:'Liberation Serif',serif" font-size="13.67" stroke="#000" stroke-width="0.35">#</text>
<g><ellipse cx="623.30" cy="343.18" rx="1.78" ry="0.75" transform="rotate(-90.0 623.30 343.18)" fill="#000"/><ellipse cx="625.12" cy="344.30" rx="1.72" ry="0.75" transform="rotate(-30.0 625.12 344.30)" fill="#000"/><ellipse cx="625.12" cy="346.40" rx="1.72" ry="0.75" transform="rotate(30.0 625.12 346.40)" fill="#000"/><ellipse cx="623.30" cy="347.52" rx="1.78" ry="0.75" transform="rotate(90.0 623.30 347.52)" fill="#000"/><ellipse cx="621.48" cy="346.40" rx="1.72" ry="0.75" transform="rotate(150.0 621.48 346.40)" fill="#000"/><ellipse cx="621.48" cy="344.30" rx="1.72" ry="0.75" transform="rotate(-150.0 621.48 344.30)" fill="#000"/></g>
<rect x="456.8" y="257.0" width="104.6" height="49.0" fill="#fff" stroke="#222" stroke-width="1.1"/>
<line x1="464" y1="265.8" x2="492" y2="265.8" stroke="#000" stroke-width="1.8" />
<ellipse cx="477.9" cy="265.8" rx="5.9" ry="4.4" fill="#000"/>
<line x1="464" y1="278.7" x2="492" y2="278.7" stroke="#000" stroke-width="1.8" />
<path d="M471.0,275.5 L484.8,275.5 L477.9,284.4 Z" fill="#000"/>
<line x1="464" y1="291.4" x2="493.5" y2="291.4" stroke="#000" stroke-width="1.8" />
<rect x="473.9" y="288.7" width="8.2" height="5.6" fill="#fff" stroke="#000" stroke-width="1.2"/>
<text x="499.4" y="272.5" font-size="12.6" font-weight="bold" textLength="34.40" lengthAdjust="spacingAndGlyphs">SHAM</text>
<text x="499.4" y="285.3" font-size="12.6" font-weight="bold" textLength="56.90" lengthAdjust="spacingAndGlyphs">CONTROL</text>
<text x="499.4" y="297.6" font-size="12.6" font-weight="bold" textLength="39.90" lengthAdjust="spacingAndGlyphs">RhAPC</text>
<text x="217.3" y="495.3" font-size="14.2" font-style="italic">p</text>
<text x="228.6" y="495.3" font-size="14.2" >&#8804;</text>
<text x="240.2" y="495.3" font-size="14.2" >0.05;</text>
<text x="275.7" y="491.0" font-size="10.2" font-weight="bold" textLength="5.0" lengthAdjust="spacingAndGlyphs">#</text>
<text x="284.8" y="495.3" font-size="14.2" >vs.</text>
<text x="306.2" y="495.3" font-size="14.2" >BL,</text>
<g><ellipse cx="335.40" cy="486.94" rx="1.24" ry="0.52" transform="rotate(-90.0 335.40 486.94)" fill="#333"/><ellipse cx="336.67" cy="487.72" rx="1.20" ry="0.52" transform="rotate(-30.0 336.67 487.72)" fill="#333"/><ellipse cx="336.67" cy="489.18" rx="1.20" ry="0.52" transform="rotate(30.0 336.67 489.18)" fill="#333"/><ellipse cx="335.40" cy="489.96" rx="1.24" ry="0.52" transform="rotate(90.0 335.40 489.96)" fill="#333"/><ellipse cx="334.13" cy="489.18" rx="1.20" ry="0.52" transform="rotate(150.0 334.13 489.18)" fill="#333"/><ellipse cx="334.13" cy="487.72" rx="1.20" ry="0.52" transform="rotate(-150.0 334.13 487.72)" fill="#333"/></g>
<text x="341.3" y="495.3" font-size="14.2" >vs.</text>
<text x="362.6" y="495.3" font-size="14.2"  textLength="48.6" lengthAdjust="spacingAndGlyphs">Control,</text>
<text x="416.3" y="492.6" font-size="10.4">&#8224;</text>
<text x="421.3" y="495.3" font-size="14.2" >vs.</text>
<text x="442.6" y="495.3" font-size="14.2"  textLength="36.2" lengthAdjust="spacingAndGlyphs">Sham</text>
</svg></body></html>
